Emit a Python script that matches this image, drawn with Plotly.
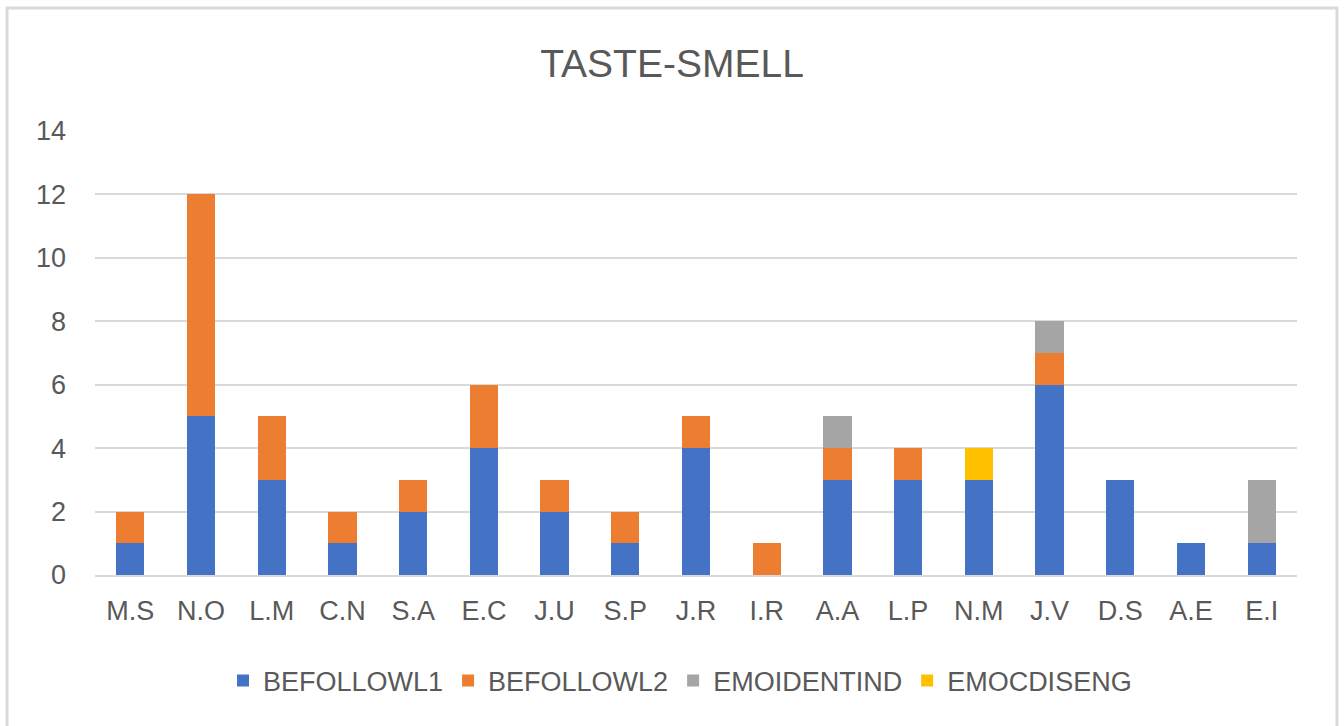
import plotly.graph_objects as go

# Participants shown along the x axis
people = ["M.S", "N.O", "L.M", "C.N", "S.A", "E.C", "J.U", "S.P", "J.R",
          "I.R", "A.A", "L.P", "N.M", "J.V", "D.S", "A.E", "E.I"]

# Counts per code, stacked in this order
befollowl1 = [1, 5, 3, 1, 2, 4, 2, 1, 4, 0, 3, 3, 3, 6, 3, 1, 1]
befollowl2 = [1, 7, 2, 1, 1, 2, 1, 1, 1, 1, 1, 1, 0, 1, 0, 0, 0]
emoidentind = [0, 0, 0, 0, 0, 0, 0, 0, 0, 0, 1, 0, 0, 1, 0, 0, 2]
emocdiseng = [0, 0, 0, 0, 0, 0, 0, 0, 0, 0, 0, 0, 1, 0, 0, 0, 0]

y_ticks = [0, 2, 4, 6, 8, 10, 12, 14]

series = [
    ("BEFOLLOWL1", befollowl1, "#4472C4"),
    ("BEFOLLOWL2", befollowl2, "#ED7D31"),
    ("EMOIDENTIND", emoidentind, "#A5A5A5"),
    ("EMOCDISENG", emocdiseng, "#FFC000"),
]

FONT = "Liberation Sans"
TEXT = "#595959"
GRID = "#D9D9D9"

fig = go.Figure()
for name, vals, color in series:
    fig.add_trace(go.Bar(
        name=name, x=people, y=vals,
        marker=dict(color=color, line=dict(width=0)),
    ))

W, H = 1344, 726
ml, mr, mt, mb = 95, 47, 131, 151
pw, ph = W - ml - mr, H - mt - mb

def px_x(p):
    return (p - ml) / pw

def px_y(p):
    return (H - mb - p) / ph

fig.update_layout(
    width=W, height=H,
    barmode="stack", bargap=0.6,
    margin=dict(l=ml, r=mr, t=mt, b=mb, autoexpand=False),
    paper_bgcolor="white", plot_bgcolor="white",
    font=dict(family=FONT, color=TEXT, size=27),
    title=dict(text="TASTE-SMELL", x=0.5, xanchor="center",
               y=1 - 63 / H, yanchor="middle", yref="container",
               font=dict(family=FONT, size=39, color=TEXT)),
    xaxis=dict(showgrid=False, showline=True, linecolor=GRID, linewidth=2,
               ticks="", tickfont=dict(size=27, color=TEXT),
               ticklabelstandoff=11, fixedrange=True),
    yaxis=dict(range=[0, 14], tickvals=y_ticks, showgrid=True,
               gridcolor=GRID, gridwidth=2, zeroline=False, showline=False,
               ticks="", tickfont=dict(size=27, color=TEXT),
               ticklabelstandoff=28, fixedrange=True),
    legend=dict(orientation="h", x=px_x(680), xanchor="center",
                y=px_y(681), yanchor="middle",
                font=dict(size=27, color=TEXT), traceorder="normal"),
    shapes=[dict(type="rect", xref="paper", yref="paper",
                 x0=px_x(7), x1=px_x(1337), y0=px_y(735), y1=px_y(8),
                 line=dict(color=GRID, width=3), fillcolor="rgba(0,0,0,0)",
                 layer="below")],
)

fig.write_html("out.html")
